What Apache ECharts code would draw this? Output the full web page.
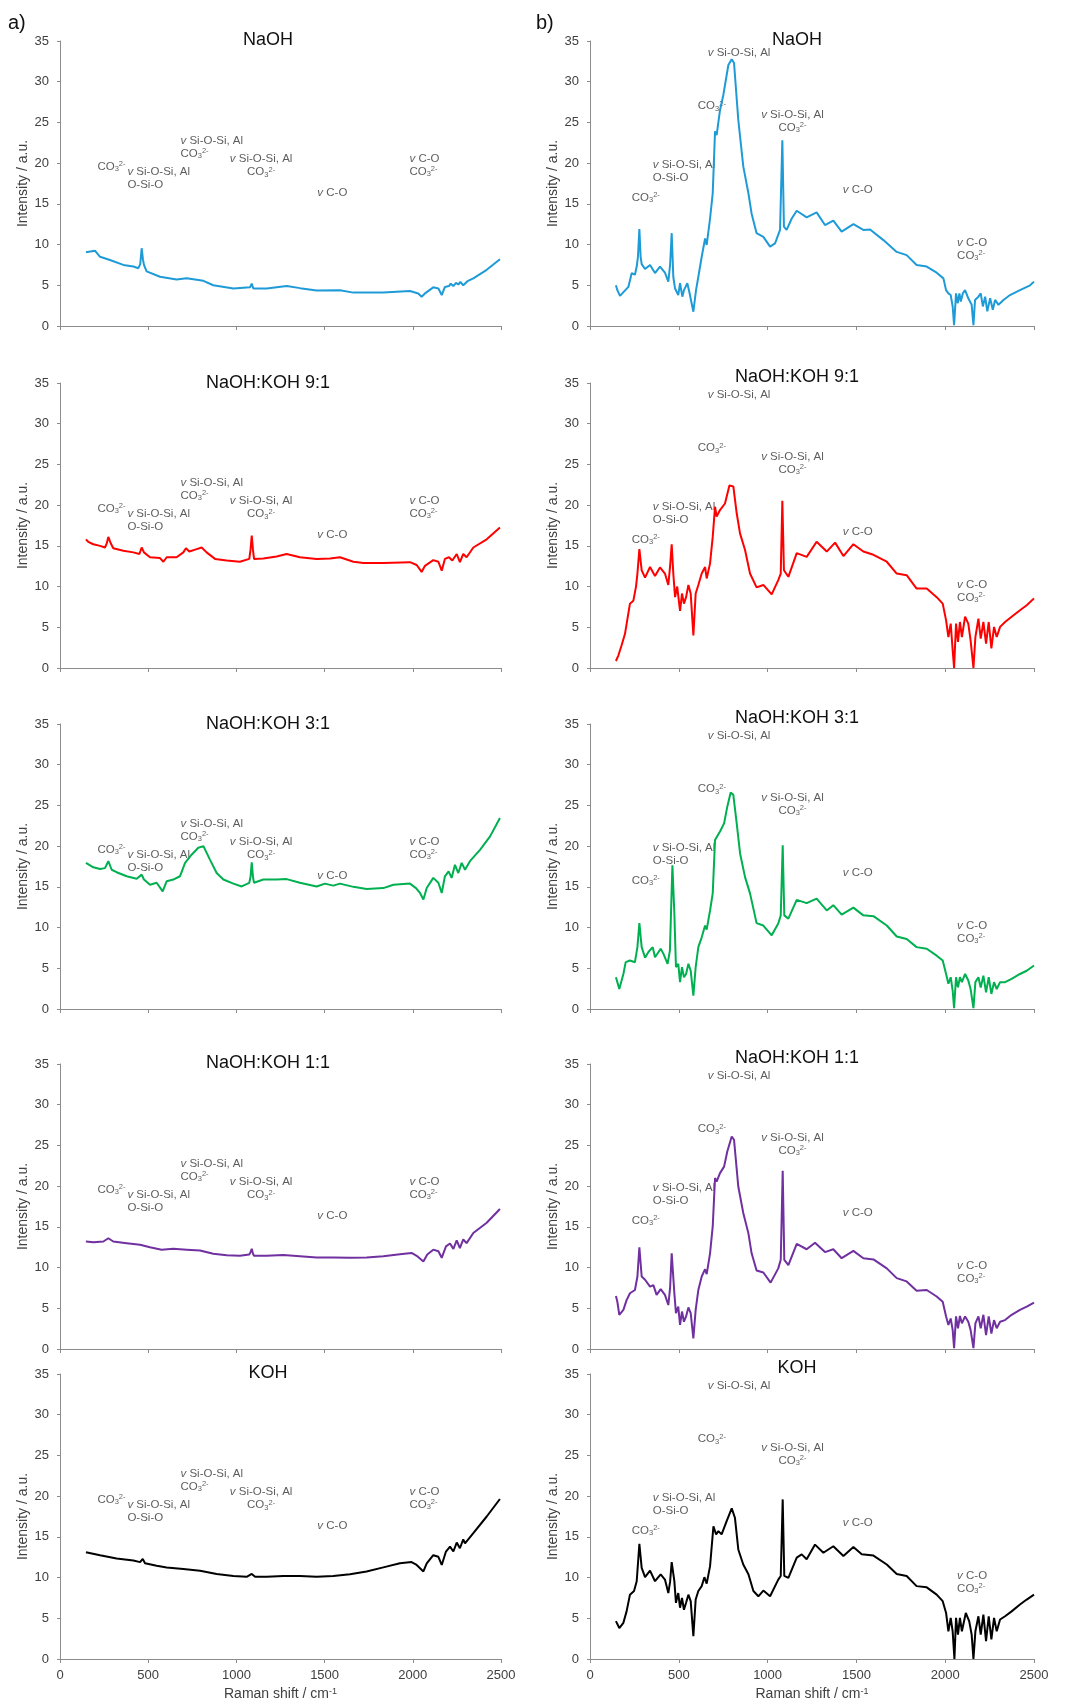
<!DOCTYPE html>
<html><head><meta charset="utf-8">
<script src="https://cdn.jsdelivr.net/npm/echarts@6/dist/echarts.min.js"></script>
<style>html,body{margin:0;padding:0;background:#fff}#c{width:1071px;height:1704px}</style>
</head><body><div id="c"></div>
<script>
// ---------------- DATA ----------------
const panelTitles = ['NaOH', 'NaOH:KOH 9:1', 'NaOH:KOH 3:1', 'NaOH:KOH 1:1', 'KOH'];
const xAxisTitle = 'Raman shift / cm{sup|-1}';
const yAxisTitle = 'Intensity / a.u.';

// a) column
const naohL = [[147,9.05],[154,8.85],[198,9.25],[227,8.5],[283,8.1],[359,7.5],[416,7.3],[444,7.1],[455,7.6],[463,9.55],[470,8.2],[476,7.5],[491,6.7],[567,6.05],[661,5.7],[718,5.85],[813,5.55],[869,5.0],[983,4.6],[1077,4.75],[1087,5.2],[1096,4.6],[1172,4.6],[1285,4.9],[1361,4.65],[1455,4.35],[1587,4.4],[1663,4.1],[1833,4.1],[1984,4.3],[2031,4.0],[2050,3.6],[2069,4.0],[2116,4.75],[2145,4.6],[2164,3.8],[2182,4.8],[2205,4.9],[2215,5.2],[2230,4.9],[2245,5.3],[2258,5.1],[2270,5.4],[2286,5.0],[2310,5.5],[2343,5.85],[2419,6.9],[2494,8.2]];
const r91L = [[147,15.8],[160,15.5],[189,15.2],[227,15.0],[255,14.8],[265,15.3],[274,16.1],[287,15.35],[302,14.7],[359,14.4],[416,14.2],[450,14.0],[463,14.8],[476,14.2],[510,13.6],[567,13.5],[586,13.05],[605,13.6],[661,13.6],[699,14.2],[714,14.7],[733,14.3],[775,14.6],[803,14.8],[831,14.2],[879,13.4],[945,13.2],[1020,13.05],[1073,13.4],[1080,14.5],[1087,16.25],[1094,14.5],[1100,13.4],[1153,13.45],[1228,13.7],[1285,14.0],[1360,13.6],[1455,13.4],[1531,13.45],[1587,13.6],[1663,13.05],[1720,12.9],[1833,12.9],[1984,13.0],[2022,12.65],[2050,11.8],[2069,12.55],[2116,13.25],[2145,13.05],[2164,11.95],[2182,13.4],[2205,13.6],[2224,13.2],[2249,14.0],[2267,13.0],[2286,14.0],[2305,13.6],[2343,14.8],[2419,15.8],[2494,17.25]];
const r31L = [[147,17.95],[189,17.4],[227,17.2],[255,17.3],[274,18.15],[293,17.1],[321,16.8],[378,16.3],[435,16.0],[463,16.5],[476,15.9],[510,15.25],[548,15.5],[582,14.45],[605,15.7],[642,15.9],[680,16.3],[709,17.95],[746,18.95],[784,19.8],[813,20.0],[850,18.35],[888,16.7],[926,15.9],[983,15.4],[1030,15.05],[1073,15.5],[1080,16.2],[1087,18.0],[1094,16.2],[1100,15.5],[1153,15.9],[1228,15.9],[1285,15.95],[1360,15.5],[1455,15.05],[1502,15.4],[1549,15.15],[1587,15.4],[1663,15.0],[1738,14.75],[1833,14.85],[1890,15.25],[1984,15.4],[2018,14.85],[2041,14.25],[2060,13.45],[2079,14.85],[2116,16.1],[2145,15.5],[2164,14.25],[2182,16.3],[2203,16.9],[2220,16.1],[2239,17.7],[2258,16.7],[2277,17.95],[2296,17.1],[2324,18.15],[2381,19.55],[2438,21.2],[2494,23.45]];
const r11L = [[147,13.2],[189,13.1],[246,13.2],[274,13.6],[302,13.2],[378,13.0],[454,12.8],[510,12.5],[576,12.2],[642,12.3],[718,12.2],[794,12.1],[869,11.7],[945,11.5],[1020,11.45],[1073,11.6],[1080,11.9],[1087,12.3],[1094,11.7],[1100,11.45],[1172,11.45],[1266,11.55],[1360,11.4],[1455,11.25],[1549,11.25],[1644,11.2],[1738,11.25],[1833,11.4],[1927,11.65],[1993,11.8],[2022,11.45],[2060,10.75],[2082,11.6],[2116,12.2],[2145,12.0],[2164,11.2],[2188,12.6],[2211,12.95],[2230,12.3],[2249,13.35],[2267,12.4],[2286,13.45],[2305,13.0],[2343,14.25],[2419,15.5],[2494,17.2]];
const kohL = [[147,13.1],[227,12.75],[321,12.35],[416,12.1],[454,11.9],[469,12.3],[482,11.75],[548,11.45],[605,11.25],[699,11.05],[794,10.85],[888,10.45],[983,10.2],[1058,10.1],[1087,10.45],[1106,10.1],[1172,10.1],[1266,10.2],[1360,10.2],[1455,10.1],[1549,10.2],[1644,10.4],[1738,10.75],[1833,11.25],[1927,11.75],[1993,11.9],[2022,11.55],[2060,10.75],[2079,11.75],[2116,12.75],[2145,12.55],[2164,11.55],[2188,13.2],[2211,13.8],[2230,13.2],[2249,14.3],[2267,13.6],[2286,14.7],[2296,14.2],[2343,15.45],[2419,17.5],[2494,19.65]];

// b) column
const naohR = [[146,5.0],[154,4.4],[169,3.7],[178,3.8],[216,4.8],[235,6.5],[253,6.3],[263,7.3],[270,8.5],[278,11.9],[285,8.5],[291,7.6],[310,7.0],[338,7.5],[366,6.5],[394,7.3],[422,6.55],[441,5.45],[451,7.5],[460,11.4],[469,6.05],[479,4.6],[488,4.6],[497,3.8],[507,5.25],[520,3.6],[529,4.4],[548,5.25],[559,4.2],[582,1.75],[597,4.4],[610,6.05],[629,8.5],[648,10.75],[657,9.95],[676,13.2],[691,16.3],[704,23.9],[713,23.45],[732,26.5],[751,28.4],[779,32.05],[798,32.75],[811,32.3],[835,25.3],[863,19.6],[892,16.3],[910,13.8],[938,11.4],[976,10.95],[1014,9.75],[1042,10.15],[1070,11.8],[1083,22.8],[1092,12.2],[1107,11.8],[1136,13.2],[1164,14.15],[1220,13.35],[1276,13.95],[1323,12.4],[1370,12.95],[1417,11.6],[1483,12.5],[1539,11.8],[1577,11.85],[1652,10.55],[1727,9.1],[1783,8.7],[1839,7.5],[1896,7.3],[1952,6.55],[1990,5.85],[2005,4.4],[2018,4.0],[2031,3.8],[2042,2.4],[2050,0.1],[2061,4.0],[2071,2.8],[2080,4.0],[2088,3.0],[2099,4.0],[2112,4.4],[2130,3.4],[2149,2.6],[2159,0.1],[2168,3.2],[2187,3.6],[2200,4.0],[2212,2.4],[2225,3.6],[2237,1.8],[2253,3.4],[2268,2.0],[2281,3.2],[2300,2.6],[2328,3.2],[2365,3.8],[2421,4.4],[2478,5.0],[2500,5.45]];
const r91R = [[146,0.86],[160,1.56],[178,2.8],[197,4.2],[225,7.9],[244,8.25],[259,10.0],[267,11.6],[278,14.6],[291,12.0],[310,11.1],[338,12.4],[366,11.3],[394,12.35],[422,11.6],[441,10.2],[451,12.5],[460,15.2],[469,11.6],[479,8.7],[491,10.0],[507,7.0],[518,9.15],[529,7.9],[541,8.7],[554,10.2],[567,9.15],[582,4.0],[595,9.15],[610,10.2],[629,11.6],[648,12.4],[657,11.0],[676,12.85],[691,16.1],[704,19.8],[713,18.6],[732,19.4],[760,20.2],[785,22.4],[807,22.3],[826,19.0],[845,16.5],[873,14.5],[901,11.6],[938,9.9],[976,10.2],[1023,9.05],[1060,10.8],[1074,11.6],[1083,20.55],[1092,12.0],[1117,11.2],[1164,14.1],[1220,13.65],[1276,15.5],[1333,14.3],[1380,15.4],[1427,13.75],[1483,15.2],[1539,14.3],[1596,13.9],[1671,13.05],[1727,11.6],[1783,11.4],[1839,9.75],[1896,9.75],[1952,8.7],[1986,7.9],[2005,5.85],[2018,3.8],[2031,5.45],[2042,2.2],[2050,0],[2061,5.45],[2072,3.2],[2083,5.65],[2094,3.8],[2112,6.3],[2130,5.45],[2143,3.4],[2159,0],[2170,3.8],[2187,6.05],[2200,3.6],[2215,5.65],[2230,3.0],[2245,5.65],[2260,2.4],[2275,5.05],[2290,3.8],[2309,5.05],[2337,5.65],[2374,6.3],[2421,7.1],[2459,7.7],[2500,8.55]];
const r31R = [[146,3.9],[154,3.3],[165,2.45],[188,4.3],[201,5.75],[225,5.95],[253,5.75],[267,7.6],[278,10.55],[291,7.6],[310,6.3],[329,7.0],[353,7.6],[366,6.35],[398,7.4],[413,6.8],[437,5.55],[450,7.2],[464,17.65],[475,11.7],[484,5.15],[497,5.55],[507,3.3],[518,5.15],[529,3.9],[541,4.3],[554,5.55],[567,4.7],[582,1.65],[595,5.15],[610,7.6],[629,8.8],[648,10.25],[657,9.75],[676,12.1],[691,14.2],[704,20.75],[713,20.55],[732,21.8],[755,22.8],[773,24.85],[792,26.6],[807,26.3],[826,22.8],[845,19.1],[873,16.2],[901,14.2],[938,10.55],[976,10.25],[1023,9.05],[1060,10.5],[1074,11.5],[1085,20.1],[1094,11.5],[1117,11.1],[1164,13.4],[1220,13.0],[1276,13.55],[1333,12.1],[1370,12.75],[1417,11.6],[1483,12.45],[1539,11.5],[1596,11.4],[1671,10.25],[1727,8.9],[1783,8.6],[1839,7.6],[1896,7.4],[1952,6.55],[1986,5.95],[2005,4.3],[2018,3.1],[2031,3.9],[2042,2.25],[2050,0.1],[2061,3.9],[2072,2.65],[2083,3.9],[2094,3.3],[2112,4.3],[2130,3.5],[2143,2.45],[2159,0.1],[2170,3.3],[2187,3.9],[2200,2.65],[2215,4.1],[2230,2.05],[2245,3.9],[2260,1.85],[2275,3.3],[2290,2.45],[2309,3.3],[2337,3.3],[2374,3.7],[2421,4.3],[2459,4.7],[2500,5.35]];
const r11R = [[146,6.5],[154,5.8],[165,4.2],[188,4.8],[206,6.0],[225,6.85],[253,7.25],[267,8.9],[278,12.5],[291,8.9],[310,8.5],[338,7.65],[357,7.85],[375,6.65],[398,7.35],[422,6.65],[441,5.4],[451,7.5],[460,11.75],[475,6.85],[484,4.4],[497,5.2],[507,2.95],[518,4.6],[529,3.35],[541,4.0],[554,5.1],[567,4.4],[582,1.3],[595,4.8],[610,7.25],[629,8.9],[648,9.8],[657,9.2],[676,11.75],[691,15.05],[704,21.0],[713,20.55],[732,21.6],[755,22.4],[773,24.25],[798,26.1],[811,25.7],[835,19.95],[863,16.7],[892,14.2],[910,11.75],[938,9.65],[976,9.4],[1017,8.15],[1060,9.9],[1074,10.95],[1085,21.9],[1094,10.95],[1117,10.3],[1164,12.9],[1220,12.25],[1267,13.05],[1323,11.9],[1370,12.25],[1417,11.15],[1483,12.05],[1539,11.15],[1596,11.0],[1671,9.9],[1727,8.7],[1783,8.3],[1839,7.15],[1896,7.25],[1952,6.45],[1986,5.8],[2005,4.0],[2018,2.95],[2031,3.75],[2042,2.35],[2050,0.1],[2061,4.0],[2072,2.55],[2083,4.05],[2094,3.15],[2112,4.0],[2130,3.35],[2143,2.35],[2159,0.1],[2170,3.15],[2187,4.0],[2200,2.55],[2215,4.2],[2230,1.7],[2245,4.0],[2260,1.9],[2275,3.55],[2290,2.55],[2309,3.35],[2337,3.55],[2374,4.2],[2421,4.8],[2459,5.2],[2500,5.7]];
const kohR = [[146,4.65],[155,4.45],[165,3.8],[188,4.45],[206,5.85],[225,7.9],[248,8.35],[263,9.55],[278,14.15],[291,11.2],[310,10.05],[338,10.85],[366,9.55],[398,10.4],[422,9.75],[441,8.1],[451,9.5],[460,11.9],[475,9.55],[484,6.9],[497,8.1],[507,6.3],[518,7.5],[529,6.05],[541,6.9],[554,7.9],[567,7.1],[582,2.8],[595,7.3],[610,8.35],[629,8.95],[644,10.05],[657,9.25],[676,11.4],[695,16.3],[710,15.3],[723,15.7],[741,15.3],[770,16.95],[798,18.5],[816,17.35],[835,13.45],[863,11.6],[892,10.4],[920,8.35],[948,7.7],[976,8.4],[1014,7.7],[1060,9.75],[1074,10.2],[1085,19.6],[1094,10.2],[1117,9.95],[1164,12.45],[1192,12.85],[1220,12.25],[1267,14.05],[1314,13.05],[1370,13.85],[1427,12.65],[1483,13.75],[1530,12.85],[1596,12.7],[1671,11.6],[1727,10.45],[1783,10.2],[1839,8.95],[1896,8.8],[1952,7.9],[1986,7.1],[2005,5.65],[2018,3.4],[2031,5.05],[2042,3.4],[2052,0],[2061,5.05],[2072,3.0],[2083,5.05],[2094,3.4],[2116,5.65],[2135,4.65],[2149,3.0],[2159,0],[2170,3.4],[2187,5.25],[2200,3.0],[2215,5.45],[2230,2.2],[2245,5.25],[2260,2.4],[2275,5.05],[2290,3.4],[2309,4.85],[2337,5.25],[2374,5.85],[2421,6.7],[2459,7.3],[2500,7.9]];

// Band annotations (x, y in data units, text, alignment)
const CO3 = '{n|CO}{sub|3}{sup|2-}';
const V = '{i|v}';
const leftNotes = [
  [212, 19.56, CO3, 'left'],
  [382, 18.18, V + '{n| Si-O-Si, Al}\n{n|O-Si-O}', 'left'],
  [683, 21.94, V + '{n| Si-O-Si, Al}\n' + CO3, 'left'],
  [1140, 19.71, V + '{n| Si-O-Si, Al}\n' + CO3, 'center'],
  [1459, 16.3, V + '{n| C-O}', 'left'],
  [1981, 19.77, V + '{n| C-O}\n' + CO3, 'left']
];
const rightNotes = [
  [663, 33.6, V + '{n| Si-O-Si, Al}', 'left'],
  [607, 27.0, CO3, 'left'],
  [1140, 25.18, V + '{n| Si-O-Si, Al}\n' + CO3, 'center'],
  [353, 18.95, V + '{n| Si-O-Si, Al}\n{n|O-Si-O}', 'left'],
  [235, 15.76, CO3, 'left'],
  [1423, 16.7, V + '{n| C-O}', 'left'],
  [2067, 9.46, V + '{n| C-O}\n' + CO3, 'left']
];

const leftSpectra = [naohL, r91L, r31L, r11L, kohL];
const rightSpectra = [naohR, r91R, r31R, r11R, kohR];
const lineColors = ['#1e9bd7', '#ff0000', '#00b050', '#7030a0', '#000000'];

// ---------------- CHART ----------------
const FONT = '"Liberation Sans", Arial, sans-serif';
const AX = '#8c8c8c';
const TXT = '#404040';
const NOTE = '#333333';
const tops = [41, 383, 724, 1064, 1374];
const titleYL = [40, 383, 724, 1063, 1373];
const titleYR = [40, 377, 718, 1058, 1368];

const rich = {
  n: {fontSize: 11.5, lineHeight: 13, color: NOTE, fontFamily: FONT},
  i: {fontSize: 11.5, lineHeight: 13, color: NOTE, fontFamily: FONT, fontStyle: 'italic'},
  sub: {fontSize: 7.5, lineHeight: 7, color: NOTE, fontFamily: FONT, verticalAlign: 'bottom'},
  sup: {fontSize: 7.5, lineHeight: 7, color: NOTE, fontFamily: FONT, verticalAlign: 'top'}
};

const grids = [], xAxes = [], yAxes = [], series = [], graphics = [];
for (let r = 0; r < 5; r++) {
  for (let c = 0; c < 2; c++) {
    const idx = grids.length;
    grids.push({left: c ? 590 : 60, top: tops[r], width: c ? 444 : 441, height: 285});
    xAxes.push({
      gridIndex: idx, type: 'value', min: 0, max: 2500, interval: 500,
      axisLine: {show: true, onZero: false, lineStyle: {color: AX, width: 1}},
      axisTick: {show: true, length: 4, lineStyle: {color: AX}},
      axisLabel: {show: r === 4, margin: 10, color: TXT, fontSize: 13, fontFamily: FONT,
        formatter: v => String(v)},
      splitLine: {show: false},
      name: r === 4 ? xAxisTitle : '', nameLocation: 'middle', nameGap: 28,
      nameTextStyle: {fontSize: 14, color: TXT, fontFamily: FONT,
        rich: {sup: {fontSize: 9, lineHeight: 9, color: TXT, fontFamily: FONT, verticalAlign: 'top'}}}
    });
    yAxes.push({
      gridIndex: idx, type: 'value', min: 0, max: 35, interval: 5,
      axisLine: {show: true, lineStyle: {color: AX, width: 1}},
      axisTick: {show: true, length: 3, lineStyle: {color: AX}},
      axisLabel: {margin: 11, color: TXT, fontSize: 13, fontFamily: FONT},
      splitLine: {show: false},
      name: yAxisTitle, nameLocation: 'middle', nameGap: 30,
      nameTextStyle: {fontSize: 14, color: TXT, fontFamily: FONT}
    });
    series.push({
      type: 'line', xAxisIndex: idx, yAxisIndex: idx,
      data: (c ? rightSpectra : leftSpectra)[r],
      showSymbol: false, symbol: 'none', smooth: false, clip: false,
      lineStyle: {color: lineColors[r], width: 2},
      itemStyle: {color: lineColors[r]}, animation: false
    });
    const notes = c ? rightNotes : leftNotes;
    series.push({
      type: 'scatter', xAxisIndex: idx, yAxisIndex: idx, silent: true,
      symbol: 'circle', symbolSize: 1, itemStyle: {color: 'rgba(0,0,0,0)'},
      animation: false,
      data: notes.map(n => ({value: [n[0], n[1]], name: n[2], label: {align: n[3]}})),
      label: {show: true, position: 'inside', verticalAlign: 'middle',
        formatter: p => p.name, fontSize: 11.5, lineHeight: 13, color: NOTE,
        fontFamily: FONT, rich: rich}
    });
    graphics.push({
      type: 'text', x: c ? 797 : 268, y: c ? titleYR[r] : titleYL[r],
      style: {text: panelTitles[r], align: 'center', verticalAlign: 'middle',
        font: '18px ' + FONT, fill: '#111'}
    });
  }
}
graphics.push({type: 'text', x: 8, y: 23, style: {text: 'a)', verticalAlign: 'middle', font: '20px ' + FONT, fill: '#111'}});
graphics.push({type: 'text', x: 536, y: 23, style: {text: 'b)', verticalAlign: 'middle', font: '20px ' + FONT, fill: '#111'}});

const chart = echarts.init(document.getElementById('c'), null, {renderer: 'canvas'});
chart.setOption({
  backgroundColor: '#ffffff',
  animation: false,
  grid: grids, xAxis: xAxes, yAxis: yAxes, series: series, graphic: graphics
});
</script></body></html>
